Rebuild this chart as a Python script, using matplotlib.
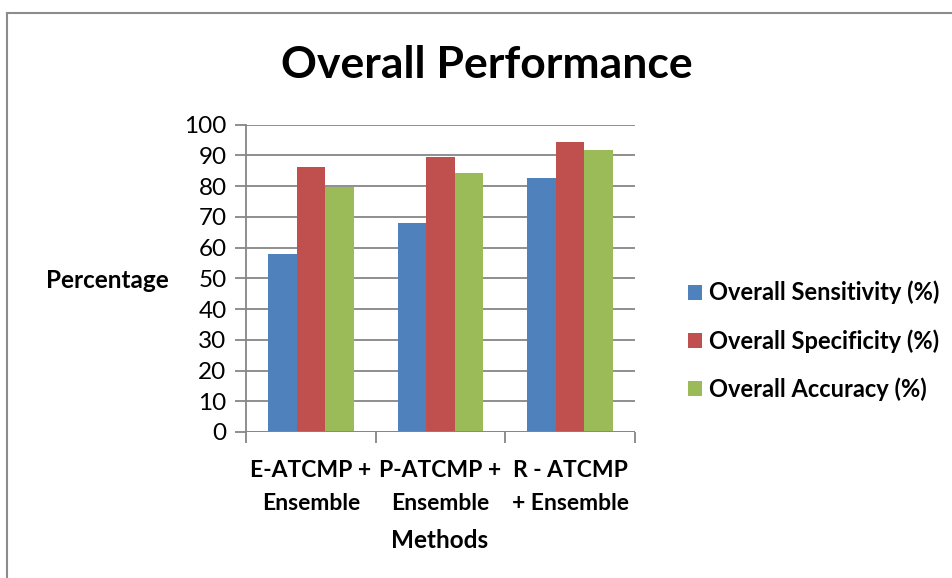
import matplotlib.pyplot as plt
import matplotlib.lines as mlines
import numpy as np

plt.rcParams['font.family'] = ['Lato', 'DejaVu Sans']

methods = ['E-ATCMP +\nEnsemble', 'P-ATCMP +\nEnsemble', 'R - ATCMP\n+ Ensemble']
sensitivity = [58.0, 68.0, 82.7]
specificity = [86.3, 89.5, 94.5]
accuracy = [79.6, 84.3, 91.7]
series_names = ['Overall Sensitivity (%)', 'Overall Specificity (%)', 'Overall Accuracy (%)']
colors = ['#4F81BD', '#C0504D', '#9BBB59']

W, H = 953, 578
fig = plt.figure(figsize=(W / 100, H / 100), dpi=100)
ax = fig.add_axes([246 / W, 1 - 432 / H, (635 - 246) / W, (432 - 124.7) / H])

x = np.arange(len(methods))
bw = 0.221
for i, (vals, name, c) in enumerate(zip([sensitivity, specificity, accuracy], series_names, colors)):
    ax.bar(x + (i - 1) * bw, vals, width=bw, color=c, label=name, zorder=3)

ax.set_xlim(-0.5, 2.5)
ax.set_ylim(0, 100)
ax.set_yticks(range(0, 101, 10))
ax.grid(axis='y', color='#868686', linewidth=1.3, zorder=0)
ax.set_axisbelow(True)

for s in ['top', 'right', 'bottom']:
    ax.spines[s].set_visible(False)
ax.spines['left'].set_color('#868686')
ax.spines['left'].set_linewidth(1.3)
ax.axhline(0, color='#868686', linewidth=1.3, zorder=4)

ax.set_xticks(x)
ax.set_xticklabels(methods, fontsize=16.5, fontweight='bold', linespacing=1.7)
ax.set_xticks([-0.5, 0.5, 1.5, 2.5], minor=True)
ax.tick_params(axis='x', which='major', length=0, pad=20)
ax.tick_params(axis='x', which='minor', length=8, width=1.3, color='#868686', direction='out')
ax.tick_params(axis='y', length=8, width=1.3, color='#868686', labelsize=17.5, pad=6)

fig.text(487 / W, 1 - 65 / H, 'Overall Performance', ha='center', va='center',
         fontsize=32, fontweight='bold')
fig.text(107 / W, 1 - 281 / H, 'Percentage', ha='center', va='center',
         fontsize=17.5, fontweight='bold')
fig.text(440 / W, 1 - 540 / H, 'Methods', ha='center', va='center',
         fontsize=17.5, fontweight='bold')

handles, labels = ax.get_legend_handles_labels()
fig.legend(handles, labels, loc='center left', bbox_to_anchor=(667 / W, 1 - 341 / H),
           frameon=False, handlelength=0.6, handleheight=0.6, handletextpad=0.28,
           labelspacing=1.05, prop={'size': 17, 'weight': 'bold'})

# outer chart border (left and top edges)
fig.add_artist(mlines.Line2D([7 / W, 7 / W], [0, 1 - 12.5 / H], transform=fig.transFigure,
                             color='#8c8c8c', linewidth=1.5))
fig.add_artist(mlines.Line2D([7 / W, 1], [1 - 12.5 / H, 1 - 12.5 / H], transform=fig.transFigure,
                             color='#8c8c8c', linewidth=1.5))

fig.savefig('out.png', dpi=100)
